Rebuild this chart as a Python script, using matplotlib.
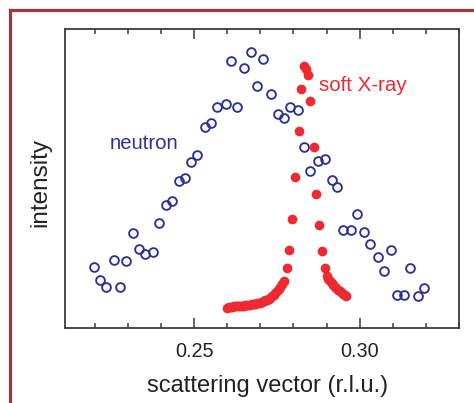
import matplotlib
matplotlib.use("Agg")
import matplotlib.pyplot as plt
from matplotlib.lines import Line2D
from matplotlib.ticker import MultipleLocator, FixedLocator

plt.rcParams['font.family'] = ['Liberation Sans', 'DejaVu Sans']

# neutron data (open blue circles)
neutron_q = [0.2198, 0.2217, 0.2235, 0.2259, 0.2276, 0.2294, 0.2316, 0.2334, 0.2352, 0.2376,
             0.2395, 0.2414, 0.2434, 0.2454, 0.2472, 0.2492, 0.2510, 0.2532, 0.2551, 0.2570,
             0.2596, 0.2612, 0.2631, 0.2652, 0.2673, 0.2691, 0.2709, 0.2732, 0.2752, 0.2770,
             0.2791, 0.2813, 0.2831, 0.2851, 0.2873, 0.2894, 0.2915, 0.2932, 0.2950, 0.2975,
             0.2993, 0.3012, 0.3032, 0.3056, 0.3073, 0.3096, 0.3113, 0.3134, 0.3151, 0.3175,
             0.3193]
neutron_i = [20.4, 16.2, 13.7, 22.7, 13.7, 22.3, 31.8, 26.3, 24.7, 25.3,
             35.2, 41.3, 42.5, 49.2, 50.1, 55.4, 57.9, 67.2, 68.5, 74.0,
             74.9, 89.4, 74.0, 86.8, 92.2, 81.0, 90.1, 78.4, 71.6, 70.3,
             73.9, 72.8, 60.4, 52.5, 55.8, 56.5, 49.5, 47.2, 32.7, 32.7,
             38.0, 32.0, 28.2, 23.7, 19.1, 26.0, 11.2, 11.2, 19.9, 10.8,
             13.5]

# soft X-ray data (filled red circles)
xray_q = [0.2600, 0.2605, 0.2610, 0.2615, 0.2620, 0.2625, 0.2630, 0.2635, 0.2640, 0.2645,
          0.2650, 0.2655, 0.2660, 0.2665, 0.2670, 0.2675, 0.2680, 0.2685, 0.2690, 0.2695,
          0.2700, 0.2705, 0.2710, 0.2715, 0.2720, 0.2725, 0.2730, 0.2735, 0.2740, 0.2745,
          0.2750, 0.2755, 0.2760, 0.2765, 0.2770,
          0.2779, 0.2788, 0.2797, 0.2806, 0.2816, 0.2824, 0.2832, 0.2838, 0.2844, 0.2851,
          0.2861, 0.2869, 0.2877, 0.2887, 0.2894,
          0.2900, 0.2905, 0.2910, 0.2915, 0.2920, 0.2925, 0.2930, 0.2935, 0.2940, 0.2945,
          0.2950, 0.2955, 0.2960]
xray_i = [6.8, 6.9, 7.0, 7.1, 7.2, 7.25, 7.3, 7.35, 7.4, 7.45,
          7.5, 7.55, 7.6, 7.7, 7.8, 7.9, 8.0, 8.1, 8.2, 8.35,
          8.5, 8.7, 8.9, 9.2, 9.5, 9.8, 10.2, 10.6, 11.1, 11.7,
          12.3, 13.0, 13.8, 14.7, 15.6,
          20.2, 26.2, 36.3, 50.6, 66.0, 79.9, 87.5, 86.5, 84.7, 75.8,
          60.4, 44.7, 34.4, 25.8, 20.2,
          17.3, 16.5, 15.7, 15.0, 14.4, 13.8, 13.3, 12.8, 12.3, 11.9,
          11.5, 11.1, 10.8]

major_ticks = [0.25, 0.30]
major_labels = ['0.25', '0.30']

BLUE = '#2e3192'
RED = '#ec2a30'
SPINE = '#3c3c3c'

fig = plt.figure(figsize=(4.74, 4.03), dpi=100)
ax = fig.add_axes([65/474, 1-328/403, (459-65)/474, (328-29)/403])

ax.plot(neutron_q, neutron_i, linestyle='none', marker='o', ms=6.3, mew=1.35,
        mfc='none', mec=BLUE, zorder=3)
ax.plot(xray_q, xray_i, linestyle='none', marker='o', ms=7, mew=0,
        mfc=RED, zorder=4)

ax.set_xlim(0.2110, 0.3300)
ax.set_ylim(0, 100)

ax.xaxis.set_major_locator(FixedLocator(major_ticks))
ax.set_xticklabels(major_labels)
ax.xaxis.set_minor_locator(MultipleLocator(0.01))
ax.tick_params(axis='x', which='both', direction='in', top=True, bottom=True,
               color=SPINE, width=1.1, labelsize=14.3, pad=10, labelcolor='#222222')
ax.tick_params(axis='x', which='major', length=7.5)
ax.tick_params(axis='x', which='minor', length=3.8)
ax.set_yticks([])
for s in ax.spines.values():
    s.set_color(SPINE)
    s.set_linewidth(1.3)

ax.text(0.2350, 59.8, 'neutron', color=BLUE, fontsize=14.6, ha='center', va='baseline')
ax.text(0.2877, 79.4, 'soft X-ray', color=RED, fontsize=14.8, ha='left', va='baseline')

fig.text(267.5/474, 1-391.7/403, 'scattering vector (r.l.u.)', fontsize=17,
         ha='center', va='baseline', color='#222222')
fig.text(40/474, 1-183/403, 'intensity', fontsize=17.5, rotation=90,
         ha='center', va='center', color='#222222')

# dark red frame
FRAME = '#a8343a'
fig.add_artist(Line2D([10/474, 10/474], [0, 1-10/403], color=FRAME, lw=2.3,
                      transform=fig.transFigure, solid_capstyle='projecting'))
fig.add_artist(Line2D([10/474, 1], [1-10/403, 1-10/403], color=FRAME, lw=2.3,
                      transform=fig.transFigure, solid_capstyle='projecting'))

fig.savefig('out.png', dpi=100)
